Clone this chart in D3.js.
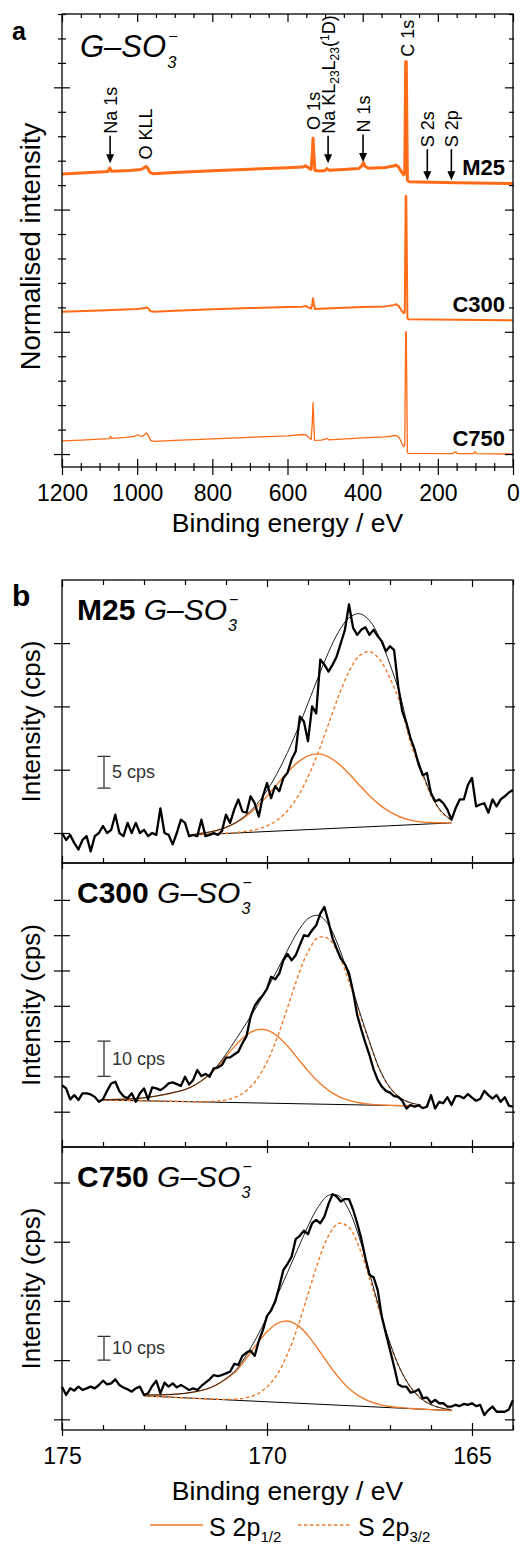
<!DOCTYPE html>
<html><head><meta charset="utf-8">
<script src="https://cdn.jsdelivr.net/npm/d3@7"></script>
<style>
html,body{margin:0;padding:0;background:#fff;}
svg{display:block;font-family:"Liberation Sans",Arial,Helvetica,sans-serif;}
.tick line{stroke:#000;stroke-width:1.2;}
</style></head><body>
<svg id="chart" width="525" height="1546"></svg>
<script>
// ===== (a) survey spectra: [binding energy / eV, normalised intensity incl. stacking offset]
const surveyM25 = [[1200,11.46],[1150,11.50],[1100,11.54],[1078,11.56],[1073,11.70],[1068,11.57],[1020,11.60],[990,11.64],[982,11.70],[977,11.76],[972,11.70],[966,11.52],[958,11.47],[900,11.52],[800,11.59],[700,11.65],[600,11.71],[560,11.74],[552,11.79],[545,11.72],[537,11.64],[534,12.3],[532,12.92],[530,12.3],[527,11.60],[515,11.58],[500,11.60],[495,11.68],[490,11.61],[450,11.64],[410,11.68],[402,11.80],[398,11.92],[394,11.77],[385,11.69],[340,11.72],[318,11.78],[312,11.82],[305,11.75],[297,11.55],[291,11.42],[288,11.48],[285.5,16.05],[284,16.05],[281,11.2],[277,11.14],[250,11.13],[150,11.10],[0,11.07]];
const surveyC300 = [[1200,5.82],[1100,5.87],[1000,5.93],[982,5.96],[976,6.00],[970,5.95],[964,5.84],[955,5.82],[900,5.86],[800,5.92],[700,5.97],[600,6.01],[560,6.03],[552,6.06],[545,6.00],[537,5.95],[534,6.15],[532,6.37],[530,6.15],[527,5.93],[500,5.95],[450,5.98],[400,6.01],[340,6.04],[318,6.09],[310,6.13],[304,6.05],[297,5.88],[291,5.76],[288,5.80],[285.5,10.56],[284,10.56],[281,5.55],[277,5.51],[150,5.49],[0,5.47]];
const surveyC750 = [[1200,0.54],[1150,0.57],[1100,0.61],[1074,0.63],[1071,0.72],[1068,0.64],[1030,0.68],[1008,0.72],[998,0.79],[990,0.72],[984,0.74],[976,0.86],[970,0.76],[964,0.56],[955,0.52],[900,0.56],[800,0.62],[673,0.70],[600,0.74],[560,0.80],[550,0.78],[542,0.66],[537,0.60],[534,1.3],[532,2.10],[530,1.3],[528,0.56],[510,0.57],[494,0.64],[490,0.58],[400,0.66],[340,0.70],[320,0.74],[310,0.76],[303,0.68],[296,0.45],[291,0.30],[288,0.36],[285.5,5.00],[284,5.00],[281,0.05],[277,0.03],[160,0.02],[152,0.10],[148,0.02],[105,0.02],[101,0.10],[97,0.02],[0,0.00]];
const surveyNames = ["M25", "C300", "C750"];
const surveyWidths = [3, 2, 1.3];
const surveyXMajor = [0, 200, 400, 600, 800, 1000, 1200];
const surveyXMinor = d3.range(0, 1201, 50);
const surveyYMinor = d3.range(0, 19, 1);
const surveyYMajor = [0, 5, 10, 15];

// peak assignments marked on the M25 survey
const surveyMarks = [
  {key: "Na 1s", be: 1072, arrow: true},
  {key: "O KLL", be: 978, arrow: false},
  {key: "O 1s", be: 532, arrow: false},
  {key: "NaKLL", be: 492, arrow: true},
  {key: "N 1s", be: 399, arrow: true},
  {key: "C 1s", be: 280, arrow: false},
  {key: "S 2s", be: 228, arrow: true},
  {key: "S 2p", be: 164, arrow: true}
];
// vertical placement of the marks (normalised intensity units)
const markLayout = {
  "Na 1s": {text: 13.1, tip: 11.9},
  "O KLL": {text: 12.05},
  "O 1s": {text: 13.26},
  "NaKLL": {text: 13.1, tip: 11.9},
  "N 1s": {text: 13.15, tip: 11.95},
  "C 1s": {text: 16.25},
  "S 2s": {text: 12.55, tip: 11.2},
  "S 2p": {text: 12.55, tip: 11.2}
};

// ===== (b) S 2p high resolution spectra, 175.0 -> 164.0 eV in 0.1 eV steps (cps)
const rawM25 = [40.0,38.9,39.7,38.4,37.4,38.9,39.5,37.1,39.5,40.0,
 41.1,40.0,40.5,42.9,40.0,39.5,41.6,40.0,41.6,40.0,
 40.5,39.5,40.0,39.7,43.9,40.0,39.7,38.2,40.0,42.1,
 41.6,39.5,39.7,39.5,42.1,39.5,39.7,40.0,39.7,40.3,
 42.9,41.6,43.7,45.3,43.4,43.2,45.8,44.7,42.6,45.8,
 47.9,45.5,47.4,46.6,48.7,49.5,51.6,52.9,58.4,57.6,
 54.5,60.0,58.9,67.4,66.6,65.5,66.6,67.9,70.0,72.1,
 76.1,72.4,71.3,72.1,72.5,71.3,72.1,71.1,70.3,68.7,
 69.5,68.9,63.2,59.2,57.4,55.0,53.2,50.8,49.1,49.5,
 46.3,45.0,45.3,44.7,43.7,42.1,43.9,45.3,45.3,47.6,
 48.7,44.2,44.5,44.7,43.2,45.3,44.2,45.3,45.8,46.4,
 46.8];
const rawC300 = [37.5,36.6,33.5,34.7,33.3,35.2,35.2,34.9,34.2,32.8,
 33.5,35.9,38.0,38.5,35.8,34.4,33.8,35.2,32.8,35.2,
 36.6,33.5,36.9,36.6,36.1,36.9,38.0,38.3,37.8,37.3,
 39.9,37.7,39.0,41.8,40.1,40.7,39.9,42.3,42.5,43.2,
 45.3,45.4,46.2,47.0,49.4,51.4,56.9,60.0,61.7,63.0,
 64.8,68.2,67.5,69.2,72.9,74.7,72.9,74.3,77.2,80.0,
 79.7,81.4,82.8,86.1,88.0,83.8,79.1,76.2,73.4,71.8,
 69.2,64.0,57.4,53.3,49.5,46.0,42.0,39.0,37.1,35.9,
 35.4,34.4,34.2,33.1,30.9,31.9,31.4,31.8,31.0,31.4,
 34.7,30.9,32.8,32.4,34.1,31.9,34.4,34.4,33.8,35.0,
 34.0,33.1,33.6,35.9,34.7,33.7,34.7,32.8,34.1,31.7,
 31.4];
const rawC750 = [38.8,35.3,38.1,37.1,38.8,37.4,38.1,38.8,38.1,39.5,
 41.3,39.8,40.2,41.9,39.5,38.4,37.7,36.7,38.1,38.8,
 35.3,36.0,39.1,41.3,36.0,40.5,38.8,40.2,38.5,39.5,
 38.5,37.4,38.1,37.4,39.1,40.5,41.9,43.7,43.3,43.7,
 44.4,45.1,48.4,48.0,51.8,53.2,54.0,51.8,58.1,62.7,
 68.7,70.9,74.7,81.1,88.1,90.6,93.7,101.1,102.5,104.7,
 103.2,107.8,109.2,107.8,110.6,116.0,120.1,119.1,117.0,118.0,
 118.0,113.5,107.8,101.3,93.0,86.0,85.0,79.6,68.4,61.3,
 54.3,47.3,39.8,38.8,38.8,36.3,36.7,37.7,33.9,34.3,
 32.0,33.2,31.8,31.8,30.4,30.4,31.1,30.6,31.5,31.1,
 31.8,30.6,31.1,26.8,28.9,30.4,28.2,28.2,28.2,29.2,
 33.2];

// fitted components above the linear background, sampled every 0.25 eV over the fit window
const fitM25 = {from: 171.75, to: 165.5,
  p12: [0.12,0.26,0.51,0.94,1.62,2.62,3.95,5.59,7.42,9.21,10.70,11.65,11.89,11.35,10.15,8.51,6.68,4.90,3.38,2.18,1.31,0.74,0.39,0.20,0.09,0.04],
  p32: [0.00,0.00,0.01,0.03,0.08,0.19,0.42,0.89,1.73,3.14,5.29,8.31,12.13,16.51,20.91,24.65,27.06,27.67,26.32,23.30,19.20,13.0,8.6,4.5,1.8,0.4],
  bg: [39.7, 41.6]};
const fitC300 = {from: 174.0, to: 166.25,
  p12: [0.10,0.20,0.35,0.55,0.85,1.30,1.90,2.60,3.40,4.80,6.80,9.49,12.98,16.41,19.19,20.71,20.69,19.08,16.28,12.85,9.36,6.31,3.93,2.26,1.21,0.59,0.27,0.11,0.04,0.01,0.00,0.00],
  p32: [0,0,0,0,0,0,0,0,0.01,0.03,0.10,0.27,0.69,1.62,3.43,6.65,11.67,18.66,27.14,35.88,43.12,47.17,46.90,42.39,34.87,26.08,17.71,10.0,5.0,2.2,0.9,0.3],
  bg: [33.3, 31.6]};
const fitC750 = {from: 173.0, to: 165.5,
  p12: [0.4,0.6,0.9,1.3,1.9,2.8,4.0,5.9,8.8,12.46,18.08,24.12,29.53,33.29,34.5,32.85,28.77,23.15,17.15,11.66,7.28,4.21,2.22,1.08,0.48,0.20,0.08,0.03,0.01,0.00,0.00],
  p32: [0,0,0,0,0,0,0.02,0.06,0.18,0.51,1.30,2.97,6.22,11.84,20.51,32.29,46.24,60.21,71.30,76.81,75.23,67.01,54.28,39.94,26.75,16.27,9.02,4.55,2.08,0.87,0.33],
  bg: [34.9, 28.7]};

const hrNames = ["M25", "C300", "C750"];
const hrRaw = [rawM25, rawC300, rawC750];
const hrFits = [fitM25, fitC300, fitC750];
const hrYDomains = [[35.26, 79.97], [20.0, 100.45], [20.5, 140.0]];
const hrYTicks = [[40, 50, 60, 70], [30, 40, 50, 60, 70, 80, 90], [25, 50, 75, 100, 125]];
const hrScaleBars = [[47.1, 52.1, "5 cps"], [40, 50, "10 cps"], [50, 60, "10 cps"]];
const hrXMajor = [175, 170, 165];
const hrXMinor = d3.range(164, 176, 1);

// ===== drawing
const svg = d3.select("#chart");
const ORANGE = "#ff6b17";
const COMP = "#f07b2b";

function ticks(g, orient, scale, values, lenIn, lenOut, tx, ty) {
  const mk = {bottom: d3.axisBottom, top: d3.axisTop, left: d3.axisLeft, right: d3.axisRight}[orient];
  const a = g.append("g").attr("transform", `translate(${tx},${ty})`)
    .call(mk(scale).tickValues(values).tickSizeInner(-lenIn).tickSizeOuter(0).tickFormat(""));
  a.select(".domain").remove();
  if (lenOut > 0) {
    const b = g.append("g").attr("transform", `translate(${tx},${ty})`)
      .call(mk(scale).tickValues(values).tickSizeInner(lenOut).tickSizeOuter(0).tickFormat(""));
    b.select(".domain").remove();
  }
}
function labels(g, scale, values, ty, fmt) {
  const a = g.append("g").attr("transform", `translate(0,${ty})`)
    .call(d3.axisBottom(scale).tickValues(values).tickSize(0).tickPadding(18).tickFormat(fmt));
  a.select(".domain").remove();
  a.selectAll("text").attr("font-size", 23).attr("fill", "#000")
    .attr("font-family", '"Liberation Sans", Arial, sans-serif');
}
function gso(g, x, y, size, name) {
  const t = g.append("text").attr("x", x).attr("y", y).attr("font-size", size).attr("fill", "#000");
  if (name) t.append("tspan").attr("font-weight", "bold").text(name + "\u00a0");
  t.append("tspan").attr("font-style", "italic").text("G\u2013SO");
  const w = t.node().getComputedTextLength();
  const s = size / 28;
  g.append("text").attr("x", x + w + 1).attr("y", y + 10 * s).attr("font-size", 15 * s)
    .attr("font-style", "italic").text("3");
  g.append("text").attr("x", x + w + 2).attr("y", y - 14 * s).attr("font-size", 15 * s).text("\u2212");
}

// ---------- panel a
const A = {left: 62, right: 513, top: 14, bottom: 467};
const xa = d3.scaleLinear().domain([1200, 0]).range([A.left, A.right]);
const ya = d3.scaleLinear().domain([-0.53, 18]).range([A.bottom, A.top]);
const ga = svg.append("g");

const surveyLine = d3.line().x(d => xa(d[0])).y(d => ya(d[1]));
[surveyM25, surveyC300, surveyC750].forEach((s, i) => {
  ga.append("path").datum(s).attr("d", surveyLine).attr("fill", "none")
    .attr("stroke", ORANGE).attr("stroke-width", surveyWidths[i]).attr("stroke-linejoin", "round");
  ga.append("text").attr("x", xa(0) - 8).attr("y", ya(s[s.length - 1][1]) - 8)
    .attr("text-anchor", "end").attr("font-size", 22).attr("font-weight", "bold").text(surveyNames[i]);
});

ga.append("rect").attr("x", A.left).attr("y", A.top).attr("width", A.right - A.left)
  .attr("height", A.bottom - A.top).attr("fill", "none").attr("stroke", "#000").attr("stroke-width", 1.3);
const xaMin = surveyXMinor.filter(v => !surveyXMajor.includes(v));
ticks(ga, "bottom", xa, xaMin, 4, 4, 0, A.bottom);
ticks(ga, "bottom", xa, surveyXMajor, 8, 8, 0, A.bottom);
ticks(ga, "top", xa, xaMin, 4, 0, 0, A.top);
ticks(ga, "top", xa, surveyXMajor, 8, 0, 0, A.top);
const yaMin = surveyYMinor.filter(v => !surveyYMajor.includes(v));
ticks(ga, "left", ya, yaMin, 4, 4, A.left, 0);
ticks(ga, "left", ya, surveyYMajor, 8, 8, A.left, 0);
ticks(ga, "right", ya, yaMin, 4, 1, A.right, 0);
ticks(ga, "right", ya, surveyYMajor, 8, 1, A.right, 0);
labels(ga, xa, surveyXMajor, A.bottom, d3.format("d"));
ga.append("text").attr("x", (A.left + A.right) / 2).attr("y", 532).attr("text-anchor", "middle")
  .attr("font-size", 26.5).text("Binding energy / eV");
ga.append("text").attr("transform", `translate(40,${(A.top + A.bottom) / 2 + 6}) rotate(-90)`)
  .attr("text-anchor", "middle").attr("font-size", 27.5).text("Normalised intensity");
ga.append("text").attr("x", 12).attr("y", 40).attr("font-size", 25).attr("font-weight", "bold").text("a");
gso(ga, 80, 57, 31, null);

// peak markers
surveyMarks.forEach(m => {
  const L = markLayout[m.key];
  const x = xa(m.be);
  const yText = ya(L.text);
  const t = ga.append("text").attr("transform", `translate(${x},${yText}) rotate(-90)`)
    .attr("dy", "0.36em").attr("font-size", 18);
  if (m.key === "NaKLL") {
    t.append("tspan").text("Na KL");
    t.append("tspan").attr("font-size", 12).attr("dy", 4).text("23");
    t.append("tspan").attr("dy", -4).text("L");
    t.append("tspan").attr("font-size", 12).attr("dy", 4).text("23");
    t.append("tspan").attr("dy", -4).text("(");
    t.append("tspan").attr("font-size", 12).attr("dy", -6).text("1");
    t.append("tspan").attr("dy", 6).text("D)");
  } else {
    t.text(m.key);
  }
  if (m.arrow) {
    const yTip = ya(L.tip);
    ga.append("line").attr("x1", x).attr("x2", x).attr("y1", yText + 2).attr("y2", yTip - 6)
      .attr("stroke", "#000").attr("stroke-width", 1.6);
    ga.append("path").attr("d", `M${x - 4},${yTip - 9}L${x + 4},${yTip - 9}L${x},${yTip}Z`).attr("fill", "#000");
  }
});

// ---------- panel b
const B = {left: 62, right: 513, tops: [580, 863, 1147], bottom: 1430};
const xb = d3.scaleLinear().domain([175, 164]).range([B.left, B.right]);
const gb = svg.append("g");
const grid = d3.range(0, 111).map(k => +(175 - k * 0.1).toFixed(1));
const xbMin = hrXMinor.filter(v => !hrXMajor.includes(v));

hrNames.forEach((name, i) => {
  const top = B.tops[i];
  const bot = i < 2 ? B.tops[i + 1] : B.bottom;
  const y = d3.scaleLinear().domain(hrYDomains[i]).range([bot, top]);
  const g = gb.append("g");
  const fit = hrFits[i];
  const fe = d3.range(fit.p12.length).map(k => fit.from - 0.25 * k);
  const bg = d3.scaleLinear().domain([fit.from, fit.to]).range(fit.bg);
  const line = d3.line().x(d => xb(d[0])).y(d => y(d[1]));

  // background
  g.append("path").datum([[fit.from, fit.bg[0]], [fit.to, fit.bg[1]]]).attr("d", line)
    .attr("fill", "none").attr("stroke", "#000").attr("stroke-width", 1);
  // components
  const smooth = d3.line().x(d => xb(d[0])).y(d => y(d[1])).curve(d3.curveCatmullRom);
  g.append("path").datum(fe.map((e, k) => [e, bg(e) + fit.p12[k]])).attr("d", smooth)
    .attr("fill", "none").attr("stroke", COMP).attr("stroke-width", 1.4);
  g.append("path").datum(fe.map((e, k) => [e, bg(e) + fit.p32[k]])).attr("d", smooth)
    .attr("fill", "none").attr("stroke", COMP).attr("stroke-width", 1.4).attr("stroke-dasharray", "3.5,2.5");
  // envelope
  g.append("path").datum(fe.map((e, k) => [e, bg(e) + fit.p12[k] + fit.p32[k]])).attr("d", smooth)
    .attr("fill", "none").attr("stroke", "#222").attr("stroke-width", 1);
  // raw data
  g.append("path").datum(grid.map((e, k) => [e, hrRaw[i][k]])).attr("d", line)
    .attr("fill", "none").attr("stroke", "#000").attr("stroke-width", 2.3).attr("stroke-linejoin", "round");

  // frame + ticks
  g.append("rect").attr("x", B.left).attr("y", top).attr("width", B.right - B.left)
    .attr("height", bot - top).attr("fill", "none").attr("stroke", "#000").attr("stroke-width", 1.3);
  ticks(g, "bottom", xb, xbMin, 5, 0, 0, bot);
  ticks(g, "bottom", xb, hrXMajor, 7, 6, 0, bot);
  if (i === 0) {
    ticks(g, "top", xb, xbMin, 5, 0, 0, top);
    ticks(g, "top", xb, hrXMajor, 7, 0, 0, top);
  }
  ticks(g, "left", y, hrYTicks[i], 8, 8, B.left, 0);
  ticks(g, "right", y, hrYTicks[i], 8, 2, B.right, 0);

  // scale bar
  const [s0, s1, st] = hrScaleBars[i];
  const bx = 104;
  g.append("path").attr("d", `M${bx - 6.5},${y(s0)}H${bx + 6.5}M${bx},${y(s0)}V${y(s1)}M${bx - 6.5},${y(s1)}H${bx + 6.5}`)
    .attr("stroke", "#333").attr("stroke-width", 1.3).attr("fill", "none");
  g.append("text").attr("x", bx + 8).attr("y", (y(s0) + y(s1)) / 2 + 6).attr("font-size", 18)
    .attr("fill", "#333").text(st);

  // titles
  g.append("text").attr("transform", `translate(40,${(top + bot) / 2}) rotate(-90)`)
    .attr("text-anchor", "middle").attr("font-size", 26).text("Intensity (cps)");
  gso(g, 77, top + 40, 30, name);
});

labels(gb, xb, hrXMajor, B.bottom, d3.format("d"));
gb.append("text").attr("x", (B.left + B.right) / 2).attr("y", 1500).attr("text-anchor", "middle")
  .attr("font-size", 26.5).text("Binding energy / eV");
gb.append("text").attr("x", 12).attr("y", 606).attr("font-size", 30).attr("font-weight", "bold").text("b");

// legend
const legend = gb.append("g");
[[150, 203, null, 209, "1/2"], [298, 350, "3.5,2.5", 358, "3/2"]].forEach(([x0, x1, dash, tx, sub]) => {
  legend.append("line").attr("x1", x0).attr("x2", x1).attr("y1", 1525).attr("y2", 1525)
    .attr("stroke", COMP).attr("stroke-width", 1.4).attr("stroke-dasharray", dash);
  const t = legend.append("text").attr("x", tx).attr("y", 1536).attr("font-size", 25);
  t.append("tspan").text("S 2p");
  t.append("tspan").attr("font-size", 15).attr("dy", 6).text(sub);
});
</script>
</body></html>
